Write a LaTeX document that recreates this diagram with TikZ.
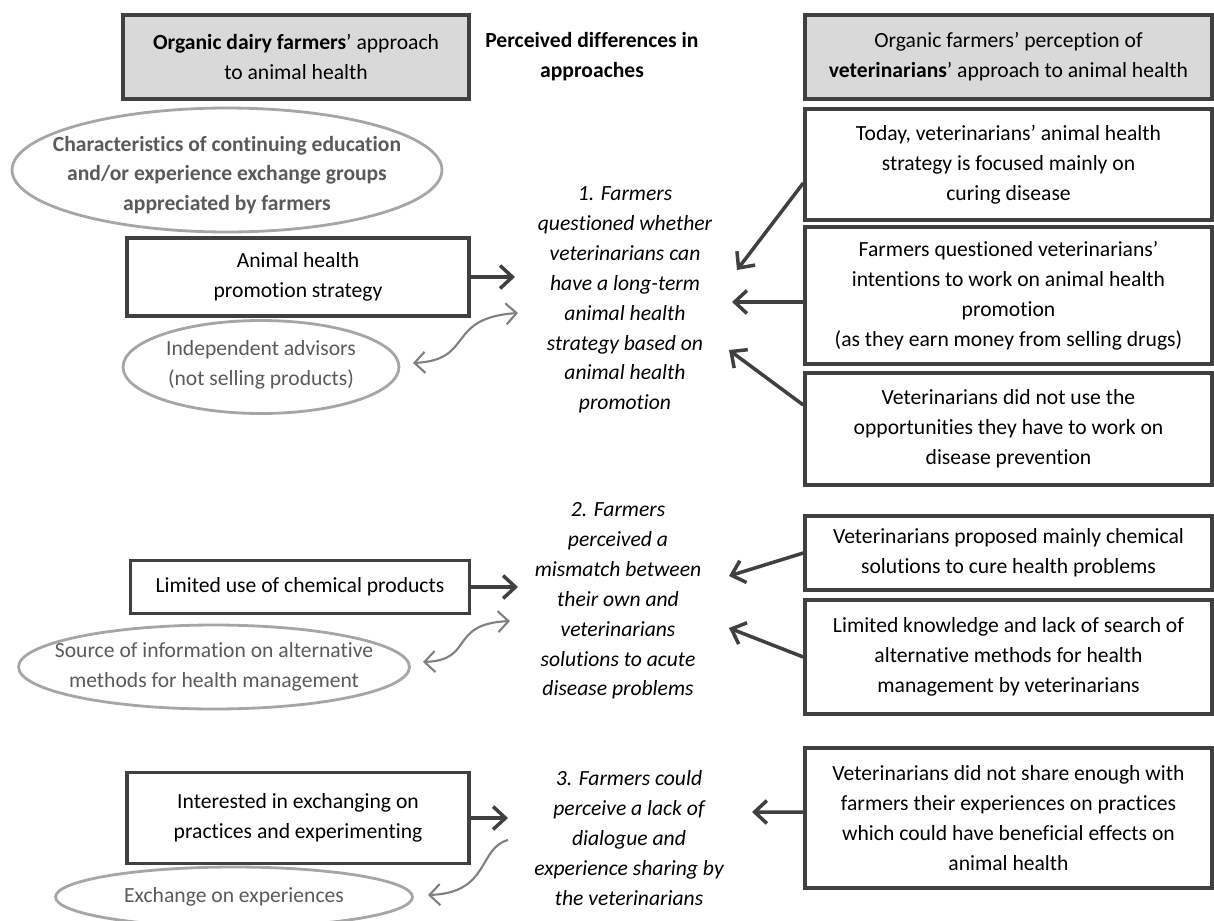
\documentclass[tikz,border=0pt]{standalone}
\usepackage{fontspec}
\setmainfont{Carlito}[Ligatures={TeX,NoCommon}]
\usetikzlibrary{arrows.meta,shapes.geometric}
\definecolor{linec}{HTML}{404040}
\definecolor{hdrfill}{HTML}{D9D9D9}
\definecolor{ovalc}{HTML}{A6A6A6}
\definecolor{ovaltext}{HTML}{5A5A5A}
\definecolor{curvec}{HTML}{808080}
\newcommand{\txtfont}{\fontsize{12.3}{17}\selectfont}
\tikzset{
  every node/.style={font=\txtfont, align=center},
  hdr/.style={draw=linec, fill=hdrfill, line width=2pt, minimum height=1.68cm},
  vetbox/.style={draw=linec, line width=2pt, minimum width=8.14cm},
  farmbox/.style={draw=linec, line width=2pt, minimum width=6.84cm},
  oval/.style={ellipse, draw=ovalc, line width=1.6pt, inner sep=0pt},
  ovlab/.style={text=ovaltext},
  diff/.style={font=\txtfont\itshape},
  arr/.style={draw=linec, line width=2pt, -{Straight Barb[length=7pt,width=13pt]}},
  garr/.style={draw=curvec, line width=1.2pt, {Straight Barb[length=6pt,width=12pt]}-{Straight Barb[length=6pt,width=12pt]}},
  garrone/.style={draw=curvec, line width=1.2pt, -{Straight Barb[length=6pt,width=12pt]}}
}
\begin{document}
\begin{tikzpicture}[x=0.02cm, y=-0.02cm]
  \useasboundingbox (0,0) rectangle (1214,920);

  \node[hdr, minimum width=6.92cm] (fhead) at (296,57) {\textbf{Organic dairy farmers}’ approach\\to animal health};
  \node[font=\txtfont\bfseries]    (dhead) at (592,57) {Perceived differences in\\approaches};
  \node[hdr, minimum width=8.14cm] (vhead) at (1008.5,57) {Organic farmers’ perception of\\\textbf{veterinarians}’ approach to animal health};

  \node[oval, minimum width=8.6cm, minimum height=2.48cm,
        label={[ovlab, font=\txtfont\bfseries, yshift=-0.1cm]center:Characteristics of continuing education\\and/or experience exchange groups\\appreciated by farmers}] (edu) at (227,170) {};
  \node[farmbox, minimum height=1.56cm] (promo) at (298,277) {Animal health\\promotion strategy};
  \node[oval, minimum width=5.52cm, minimum height=1.86cm,
        label={[ovlab, yshift=0.05cm]center:Independent advisors\\(not selling products)}] (advis) at (261,367) {};

  \node[diff] (diff1) at (625,300) {1. Farmers\\questioned whether\\veterinarians can\\have a long-term\\animal health\\strategy based on\\animal health\\promotion};

  \node[vetbox, minimum height=2.22cm] (cure)  at (1008.5,164.5) {Today, veterinarians’ animal health\\strategy is focused mainly on\\curing disease};
  \node[vetbox, minimum height=2.74cm] (money) at (1008.5,295.5) {Farmers questioned veterinarians’\\intentions to work on animal health\\promotion\\(as they earn money from selling drugs)};
  \node[vetbox, minimum height=2.24cm] (prev)  at (1008.5,429) {Veterinarians did not use the\\opportunities they have to work on\\disease prevention};

  \node[farmbox, minimum width=6.78cm, minimum height=1.06cm] (chem) at (300,587) {Limited use of chemical products};
  \node[oval, minimum width=7.82cm, minimum height=1.68cm,
        label={[ovlab]center:Source of information on alternative\\methods for health management}] (source) at (214,667) {};

  \node[diff] (diff2) at (618,601) {2. Farmers\\perceived a\\mismatch between\\their own and\\veterinarians\\solutions to acute\\disease problems};

  \node[vetbox, minimum height=1.48cm] (chemvet) at (1008.5,553) {Veterinarians proposed mainly chemical\\solutions to cure health problems};
  \node[vetbox, minimum height=2.28cm] (search)  at (1008.5,657) {Limited knowledge and lack of search of\\alternative methods for health\\management by veterinarians};

  \node[farmbox, minimum height=1.82cm] (interest) at (298,818) {Interested in exchanging on\\practices and experimenting};
  \node[oval, minimum width=7.14cm, minimum height=1.2cm,
        label={[ovlab]center:Exchange on experiences}] (exch) at (234,897) {};

  \node[diff] (diff3) at (629,838) {3. Farmers could\\perceive a lack of\\dialogue and\\experience sharing by\\the veterinarians};

  \node[vetbox, minimum height=2.8cm] (share) at (1008.5,818) {Veterinarians did not share enough with\\farmers their experiences on practices\\which could have beneficial effects on\\animal health};

  \coordinate (in1) at (515,277);
  \coordinate (in2) at (518,587);
  \coordinate (in3) at (508,818);
  \coordinate (q1a) at (737,270);
  \coordinate (q1b) at (732,302);
  \coordinate (q1c) at (729,350);
  \coordinate (q2a) at (729,576);
  \coordinate (q2b) at (729,628);
  \coordinate (q3)  at (752,812);
  \coordinate (g1l) at (413,363);
  \coordinate (g1r) at (518,313);
  \coordinate (g2l) at (423,662);
  \coordinate (g2r) at (510,621);
  \coordinate (g3l) at (428,895);
  \coordinate (g3r) at (508,840);

  \draw[arr] (promo.east) -- (in1);
  \draw[arr] (chem.east) -- (in2);
  \draw[arr] (interest.east) -- (in3);
  \draw[arr] ([yshift=-0.37cm]cure.west) -- (q1a);
  \draw[arr] ([yshift=-0.13cm]money.west) -- (q1b);
  \draw[arr] ([yshift=0.48cm]prev.west) -- (q1c);
  \draw[arr] (chemvet.west) -- (q2a);
  \draw[arr] (search.west) -- (q2b);
  \draw[arr] ([yshift=0.12cm]share.west) -- (q3);

  \draw[garr] (g1l) .. controls (475,360) and (445,318) .. (g1r);
  \draw[garr] (g2l) .. controls (475,660) and (448,624) .. (g2r);
  \draw[garrone] (g3r) .. controls (478,848) and (490,893) .. (g3l);
\end{tikzpicture}
\end{document}
